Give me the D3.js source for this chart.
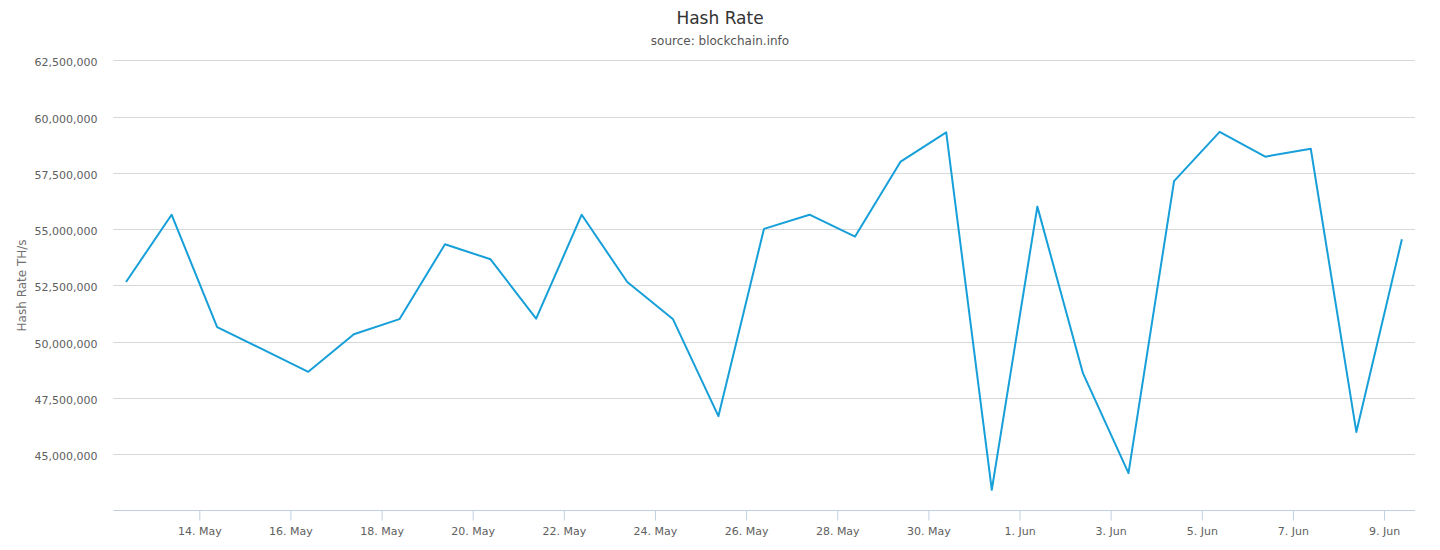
<!DOCTYPE html>
<html>
<head>
<meta charset="utf-8">
<script src="https://cdn.jsdelivr.net/npm/d3@7"></script>
<style>
  html, body { margin: 0; padding: 0; background: #fff; }
  svg { display: block; font-family: "DejaVu Sans", "Lucida Grande", sans-serif; }
</style>
</head>
<body>
<svg id="chart" width="1440" height="550"></svg>
<script>
// ---- data ----
const dates = [
  "2019-05-12","2019-05-13","2019-05-14","2019-05-15","2019-05-16","2019-05-17","2019-05-18",
  "2019-05-19","2019-05-20","2019-05-21","2019-05-22","2019-05-23","2019-05-24","2019-05-25",
  "2019-05-26","2019-05-27","2019-05-28","2019-05-29","2019-05-30","2019-05-31","2019-06-01",
  "2019-06-02","2019-06-03","2019-06-04","2019-06-05","2019-06-06","2019-06-07","2019-06-08",
  "2019-06-09"
];
const hashRate = [
  52650000, 55640000, 50650000, 49660000, 48660000, 50330000, 51000000,
  54330000, 53660000, 51020000, 55640000, 52650000, 51010000, 46690000,
  55010000, 55640000, 54670000, 58000000, 59300000, 43420000, 56000000,
  48600000, 44160000, 57130000, 59320000, 58220000, 58570000, 45990000,
  54550000
];
const xTickDates = [
  "2019-05-14","2019-05-16","2019-05-18","2019-05-20","2019-05-22","2019-05-24","2019-05-26",
  "2019-05-28","2019-05-30","2019-06-01","2019-06-03","2019-06-05","2019-06-07","2019-06-09"
];
const yTicks = [45000000, 47500000, 50000000, 52500000, 55000000, 57500000, 60000000, 62500000];
const titleText = "Hash Rate";
const subtitleText = "source: blockchain.info";
const yAxisTitle = "Hash Rate TH/s";

(function () {
// ---- layout ----
const svg = d3.select("#chart");
const pLeft = 113.3, pRight = 1415, pTop = 60.3, pBottom = 510.5;
const HOUR = 3600 * 1000;
const pointOffset = 9.4 * HOUR;   // sample time within each day

const parse = d3.utcParse("%Y-%m-%d");
const pts = dates.map((d, i) => ({ t: new Date(parse(d).getTime() + pointOffset), v: hashRate[i] }));

const x = d3.scaleUtc()
  .domain([new Date(parse(dates[0]).getTime() + 2.7 * HOUR),
           new Date(parse(dates[dates.length - 1]).getTime() + 16.3 * HOUR)])
  .range([pLeft, pRight]);
const y = d3.scaleLinear().domain([42500000, 62500000]).range([pBottom, pTop]);

// gridlines
svg.append("g").selectAll("line").data(yTicks).join("line")
  .attr("x1", pLeft).attr("x2", pRight)
  .attr("y1", d => Math.round(y(d)) + 0.5).attr("y2", d => Math.round(y(d)) + 0.5)
  .attr("stroke", "#d8d8d8").attr("stroke-width", 1);

// y labels
const fmt = d3.format(",");
svg.append("g").selectAll("text").data(yTicks).join("text")
  .attr("x", 97.5).attr("y", d => y(d) + 6)
  .attr("text-anchor", "end")
  .attr("font-size", 11).attr("fill", "#606060")
  .text(d => fmt(d));

// x axis
const xTicks = xTickDates.map(parse);
const xAxis = d3.axisBottom(x)
  .tickValues(xTicks)
  .tickSize(10)
  .tickPadding(7)
  .tickFormat(d3.utcFormat("%-d. %b"));
const gx = svg.append("g").attr("transform", `translate(0,${Math.round(pBottom) - 0.5})`).call(xAxis);
gx.select(".domain").attr("stroke", "#c0d0e0").attr("d", `M${pLeft},0H${pRight}`);
gx.selectAll(".tick line").attr("stroke", "#c0d0e0");
gx.selectAll(".tick text")
  .attr("font-family", "DejaVu Sans, sans-serif")
  .attr("font-size", 11).attr("fill", "#606060");

// line
const line = d3.line().x(d => x(d.t)).y(d => y(d.v));
svg.append("path").datum(pts)
  .attr("d", line)
  .attr("fill", "none")
  .attr("stroke", "#169fd8")
  .attr("stroke-width", 2)
  .attr("stroke-linejoin", "round");

// titles
svg.append("text").attr("x", 720).attr("y", 24)
  .attr("text-anchor", "middle").attr("font-size", 17).attr("fill", "#333333")
  .text(titleText);
svg.append("text").attr("x", 720).attr("y", 45)
  .attr("text-anchor", "middle").attr("font-size", 12).attr("fill", "#555555")
  .text(subtitleText);
svg.append("text")
  .attr("transform", `translate(25.5,${(pTop + pBottom) / 2}) rotate(-90)`)
  .attr("text-anchor", "middle").attr("font-size", 12).attr("fill", "#707070")
  .text(yAxisTitle);
})();
</script>
</body>
</html>
